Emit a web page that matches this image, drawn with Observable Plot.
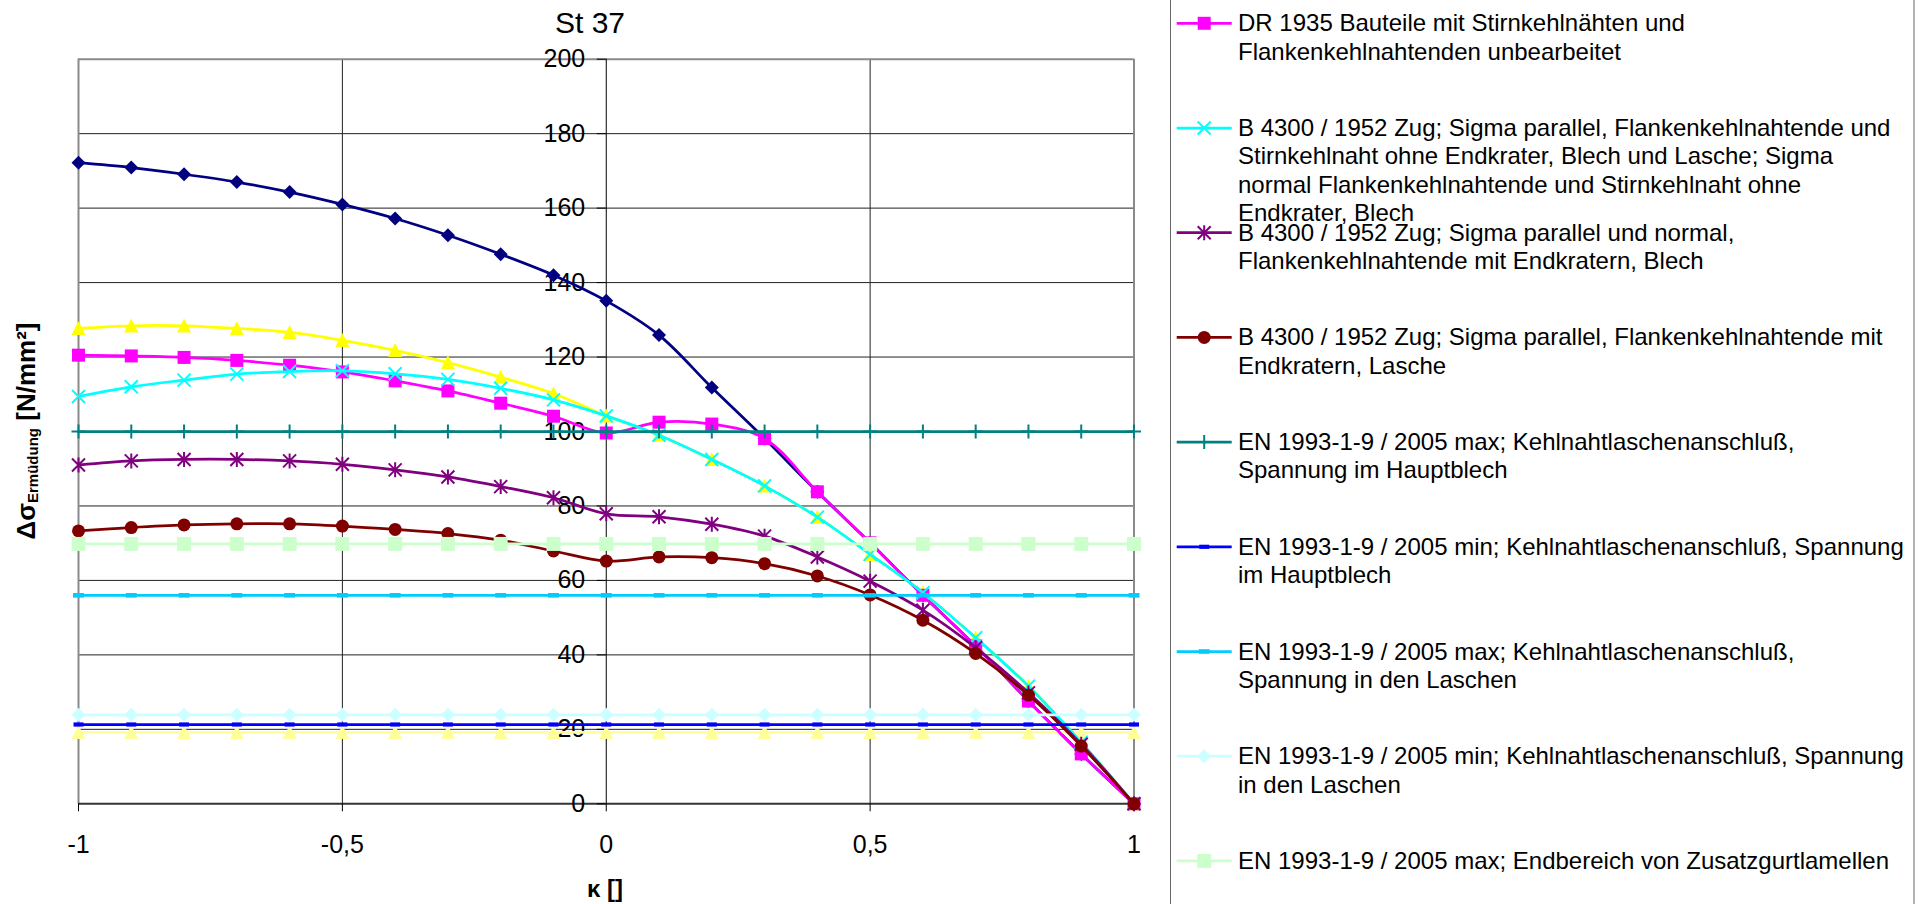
<!DOCTYPE html>
<html><head><meta charset="utf-8">
<script src="https://cdn.jsdelivr.net/npm/d3@7"></script>
<script src="https://cdn.jsdelivr.net/npm/@observablehq/plot@0.6"></script>
<style>
html,body{margin:0;padding:0;background:#fff;}
#wrap{position:relative;width:1932px;height:904px;overflow:hidden;font-family:"Liberation Sans",Arial,sans-serif;}
#wrap svg{position:absolute;left:0;top:0;}
</style></head><body><div id="wrap"></div>
<script>
// ---------- data ----------
const kappa = [-1, -0.9, -0.8, -0.7, -0.6, -0.5, -0.4, -0.3, -0.2, -0.1, 0, 0.1, 0.2, 0.3, 0.4, 0.5, 0.6, 0.7, 0.8, 0.9, 1];

const dr1935 =        [120.5, 120.3, 119.9, 119.1, 117.8, 116.0, 113.6, 110.9, 107.6, 104.1, 99.6, 102.5, 102.0, 98.1, 83.8, 70.1, 56.0, 42.4, 27.6, 13.4, 0];
const b4300Ohne =     [109.4, 112.0, 113.8, 115.4, 116.1, 116.3, 115.5, 114.0, 111.6, 108.5, 104.2, 99.0, 92.5, 85.4, 77.0, 67.0, 56.7, 44.6, 31.6, 16.5, 0];
const b4300Blech =    [91.0, 92.1, 92.5, 92.5, 92.1, 91.2, 89.7, 87.8, 85.2, 82.2, 77.9, 77.1, 75.1, 71.9, 66.3, 59.8, 52.0, 41.9, 29.8, 16.0, 0];
const b4300Lasche =   [73.3, 74.2, 74.9, 75.2, 75.2, 74.6, 73.7, 72.6, 70.8, 67.9, 65.2, 66.3, 66.1, 64.5, 61.2, 56.1, 49.3, 40.4, 29.2, 15.5, 0];
const enMaxHaupt =    [100, 100, 100, 100, 100, 100, 100, 100, 100, 100, 100, 100, 100, 100, 100, 100, 100, 100, 100, 100, 100];
const enMinHaupt =    [21.3, 21.3, 21.3, 21.3, 21.3, 21.3, 21.3, 21.3, 21.3, 21.3, 21.3, 21.3, 21.3, 21.3, 21.3, 21.3, 21.3, 21.3, 21.3, 21.3, 21.3];
const enMaxLaschen =  [56, 56, 56, 56, 56, 56, 56, 56, 56, 56, 56, 56, 56, 56, 56, 56, 56, 56, 56, 56, 56];
const enMinLaschen =  [23.9, 23.9, 23.9, 23.9, 23.9, 23.9, 23.9, 23.9, 23.9, 23.9, 23.9, 23.9, 23.9, 23.9, 23.9, 23.9, 23.9, 23.9, 23.9, 23.9, 23.9];
const enMaxZusatz =   [69.8, 69.8, 69.8, 69.8, 69.8, 69.8, 69.8, 69.8, 69.8, 69.8, 69.8, 69.8, 69.8, 69.8, 69.8, 69.8, 69.8, 69.8, 69.8, 69.8, 69.8];
// series whose legend entries are cut off in the picture
const seriesNavy =    [172.2, 170.9, 169.1, 167.0, 164.3, 161.0, 157.2, 152.7, 147.6, 142.0, 135.1, 125.9, 111.8, 98.1, 83.8, 70.1, 56.0, 42.4, 27.6, 13.4, 0];
const seriesYellow =  [127.7, 128.4, 128.4, 127.7, 126.6, 124.5, 121.8, 118.5, 114.6, 110.2, 104.2, 99.0, 92.5, 85.4, 77.0, 67.0, 56.7, 44.6, 31.6, 16.5, 0];
const seriesPaleYel = [19.2, 19.2, 19.2, 19.2, 19.2, 19.2, 19.2, 19.2, 19.2, 19.2, 19.2, 19.2, 19.2, 19.2, 19.2, 19.2, 19.2, 19.2, 19.2, 19.2, 19.2];

const yTicks = [0, 20, 40, 60, 80, 100, 120, 140, 160, 180, 200];
const xTicks = [-1, -0.5, 0, 0.5, 1];

const legendLabels = [
  ["DR 1935 Bauteile mit Stirnkehlnähten und", "Flankenkehlnahtenden unbearbeitet"],
  ["B 4300 / 1952 Zug; Sigma parallel, Flankenkehlnahtende und", "Stirnkehlnaht ohne Endkrater, Blech und Lasche; Sigma", "normal Flankenkehlnahtende und Stirnkehlnaht ohne", "Endkrater, Blech"],
  ["B 4300 / 1952 Zug; Sigma parallel und normal,", "Flankenkehlnahtende mit Endkratern, Blech"],
  ["B 4300 / 1952 Zug; Sigma parallel, Flankenkehlnahtende mit", "Endkratern, Lasche"],
  ["EN 1993-1-9 / 2005 max; Kehlnahtlaschenanschluß,", "Spannung im Hauptblech"],
  ["EN 1993-1-9 / 2005 min; Kehlnahtlaschenanschluß, Spannung", "im Hauptblech"],
  ["EN 1993-1-9 / 2005 max; Kehlnahtlaschenanschluß,", "Spannung in den Laschen"],
  ["EN 1993-1-9 / 2005 min; Kehlnahtlaschenanschluß, Spannung", "in den Laschen"],
  ["EN 1993-1-9 / 2005 max; Endbereich von Zusatzgurtlamellen"]
];

// ---------- symbols & styles ----------
const hr = s => Math.sqrt(s / Math.PI);
const sym = {
  square:   {draw(c, s){const h = hr(s); c.rect(-h, -h, 2*h, 2*h);}},
  diamond:  {draw(c, s){const h = hr(s); c.moveTo(0, -h); c.lineTo(h, 0); c.lineTo(0, h); c.lineTo(-h, 0); c.closePath();}},
  triangle: {draw(c, s){const h = hr(s); c.moveTo(0, -h*1.05); c.lineTo(h, h*0.95); c.lineTo(-h, h*0.95); c.closePath();}},
  circle:   {draw(c, s){const h = hr(s); c.moveTo(h, 0); c.arc(0, 0, h, 0, 2*Math.PI);}},
  times:    {draw(c, s){const h = hr(s); c.moveTo(-h, -h); c.lineTo(h, h); c.moveTo(-h, h); c.lineTo(h, -h);}},
  asterisk: {draw(c, s){const h = hr(s); c.moveTo(-h, -h); c.lineTo(h, h); c.moveTo(-h, h); c.lineTo(h, -h); c.moveTo(0, -h*1.15); c.lineTo(0, h*1.15);}},
  plus:     {draw(c, s){const h = hr(s); c.moveTo(0, -h); c.lineTo(0, h); c.moveTo(-h, 0); c.lineTo(h, 0);}},
  dash:     {draw(c, s){const h = hr(s); c.rect(-h, -h*0.42, 2*h, h*0.84);}}
};

// drawing order (later = on top); legend index for the 9 visible entries
const series = [
  {values: seriesNavy,    color: "#000080", symbol: "diamond",  r: 7,   filled: true,  curve: "catmull-rom"},
  {values: seriesYellow,  color: "#FFFF00", symbol: "triangle", r: 7,   filled: true,  curve: "catmull-rom"},
  {values: seriesPaleYel, color: "#FFFF99", symbol: "triangle", r: 7,   filled: true,  curve: "linear"},
  {values: dr1935,        color: "#FF00FF", symbol: "square",   r: 6.5, filled: true,  curve: "catmull-rom", legend: 0},
  {values: b4300Ohne,     color: "#00FFFF", symbol: "times",    r: 6.5, filled: false, curve: "catmull-rom", legend: 1},
  {values: b4300Blech,    color: "#800080", symbol: "asterisk", r: 6.5, filled: false, curve: "catmull-rom", legend: 2},
  {values: b4300Lasche,   color: "#800000", symbol: "circle",   r: 6.5, filled: true,  curve: "catmull-rom", legend: 3},
  {values: enMaxHaupt,    color: "#008080", symbol: "plus",     r: 7,   filled: false, curve: "linear", legend: 4},
  {values: enMinHaupt,    color: "#0000FF", symbol: "dash",     r: 5,   filled: true,  curve: "linear", legend: 5},
  {values: enMaxLaschen,  color: "#00CCFF", symbol: "dash",     r: 5.5, filled: true,  curve: "linear", legend: 6},
  {values: enMinLaschen,  color: "#CCFFFF", symbol: "diamond",  r: 7,   filled: true,  curve: "linear", legend: 7},
  {values: enMaxZusatz,   color: "#CCFFCC", symbol: "square",   r: 7,   filled: true,  curve: "linear", legend: 8}
];

// ---------- layout ----------
const W = 1932, H = 904;
const mL = 78, mR = W - 1133.5, mT = 58.7, mB = H - 803.3;
const FONT = '"Liberation Sans", Arial, sans-serif';
const fmtX = d => String(d).replace(".", ",");

const marks = [
  Plot.ruleY(yTicks.filter(d => d > 0 && d < 200), {stroke: "#222", strokeWidth: 1}),
  Plot.ruleX([-0.5, 0.5], {stroke: "#222", strokeWidth: 1}),
  Plot.ruleX([-1, 1], {stroke: "#8a8a8a", strokeWidth: 2}),
  Plot.ruleY([200], {stroke: "#8a8a8a", strokeWidth: 2}),
  Plot.ruleX([0], {stroke: "#000", strokeWidth: 1}),
  Plot.ruleY([0], {stroke: "#333", strokeWidth: 2}),
  Plot.ruleY(yTicks, {y: d => d, x1: 0, x2: 0, insetLeft: -9, stroke: "#000", strokeWidth: 1}),
  Plot.text(yTicks, {x: 0, y: d => d, text: d => String(d), dx: -21, textAnchor: "end", fontSize: 25, fill: "#000"}),
  Plot.axisX({ticks: xTicks, tickSize: 8, tickPadding: 23, tickFormat: fmtX, fontSize: 25, label: null, stroke: "#000"})
];

for (const s of series) {
  const rows = kappa.map((k, i) => ({k, v: s.values[i]}));
  marks.push(Plot.line(rows, {x: "k", y: "v", stroke: s.color, strokeWidth: 2.75, curve: s.curve}));
  marks.push(Plot.dot(rows, s.filled
    ? {x: "k", y: "v", symbol: sym[s.symbol], r: s.r, fill: s.color, stroke: "none"}
    : {x: "k", y: "v", symbol: sym[s.symbol], r: s.r, fill: "none", stroke: s.color, strokeWidth: 2}));
}

const chart = Plot.plot({
  width: W, height: H,
  marginLeft: mL, marginRight: mR, marginTop: mT, marginBottom: mB,
  x: {domain: [-1, 1], axis: null, label: null},
  y: {domain: [0, 200], axis: null, label: null},
  style: {fontFamily: FONT, background: "transparent", color: "#000", overflow: "visible"},
  marks
});
const wrap = document.getElementById("wrap");
wrap.appendChild(chart);

// ---------- overlay: title, axis titles, legend ----------
const ov = d3.select(wrap).append("svg").attr("width", W).attr("height", H)
  .style("font-family", FONT).style("pointer-events", "none");

ov.append("text").attr("x", 590).attr("y", 33).attr("text-anchor", "middle")
  .attr("font-size", 30).attr("fill", "#000").text("St 37");

const yl = ov.append("text").attr("transform", "translate(35,431) rotate(-90)")
  .attr("text-anchor", "middle").attr("font-weight", "bold").attr("font-size", 26).attr("fill", "#000");
yl.append("tspan").text("Δσ");
yl.append("tspan").attr("font-size", 15).attr("dy", 3).text("Ermüdung");
yl.append("tspan").attr("dy", -3).text(" [N/mm²]");

ov.append("text").attr("x", 605).attr("y", 897).attr("text-anchor", "middle")
  .attr("font-weight", "bold").attr("font-size", 24).attr("fill", "#000").text("κ []");

// legend box
ov.append("rect").attr("x", 1170.5).attr("y", -5).attr("width", 743.5).attr("height", H + 10)
  .attr("fill", "none").attr("stroke", "#666").attr("stroke-width", 1);

const LX0 = 1176.7, LX1 = 1231.7, LTX = 1238, LY0 = 23.3, LSTEP = 104.7, LLH = 28.3;
for (const s of series) {
  if (s.legend === undefined) continue;
  const y = LY0 + s.legend * LSTEP;
  const g = ov.append("g");
  g.append("line").attr("x1", LX0).attr("x2", LX1).attr("y1", y).attr("y2", y)
    .attr("stroke", s.color).attr("stroke-width", 2.75);
  const p = g.append("path").attr("transform", `translate(${(LX0 + LX1) / 2},${y})`)
    .attr("d", d3.symbol(sym[s.symbol], Math.PI * s.r * s.r)());
  if (s.filled) p.attr("fill", s.color); else p.attr("fill", "none").attr("stroke", s.color).attr("stroke-width", 2);
  const t = g.append("text").attr("x", LTX).attr("y", y + 8).attr("font-size", 24).attr("fill", "#000");
  legendLabels[s.legend].forEach((line, j) => {
    t.append("tspan").attr("x", LTX).attr("dy", j === 0 ? 0 : LLH).text(line);
  });
}
</script></body></html>
